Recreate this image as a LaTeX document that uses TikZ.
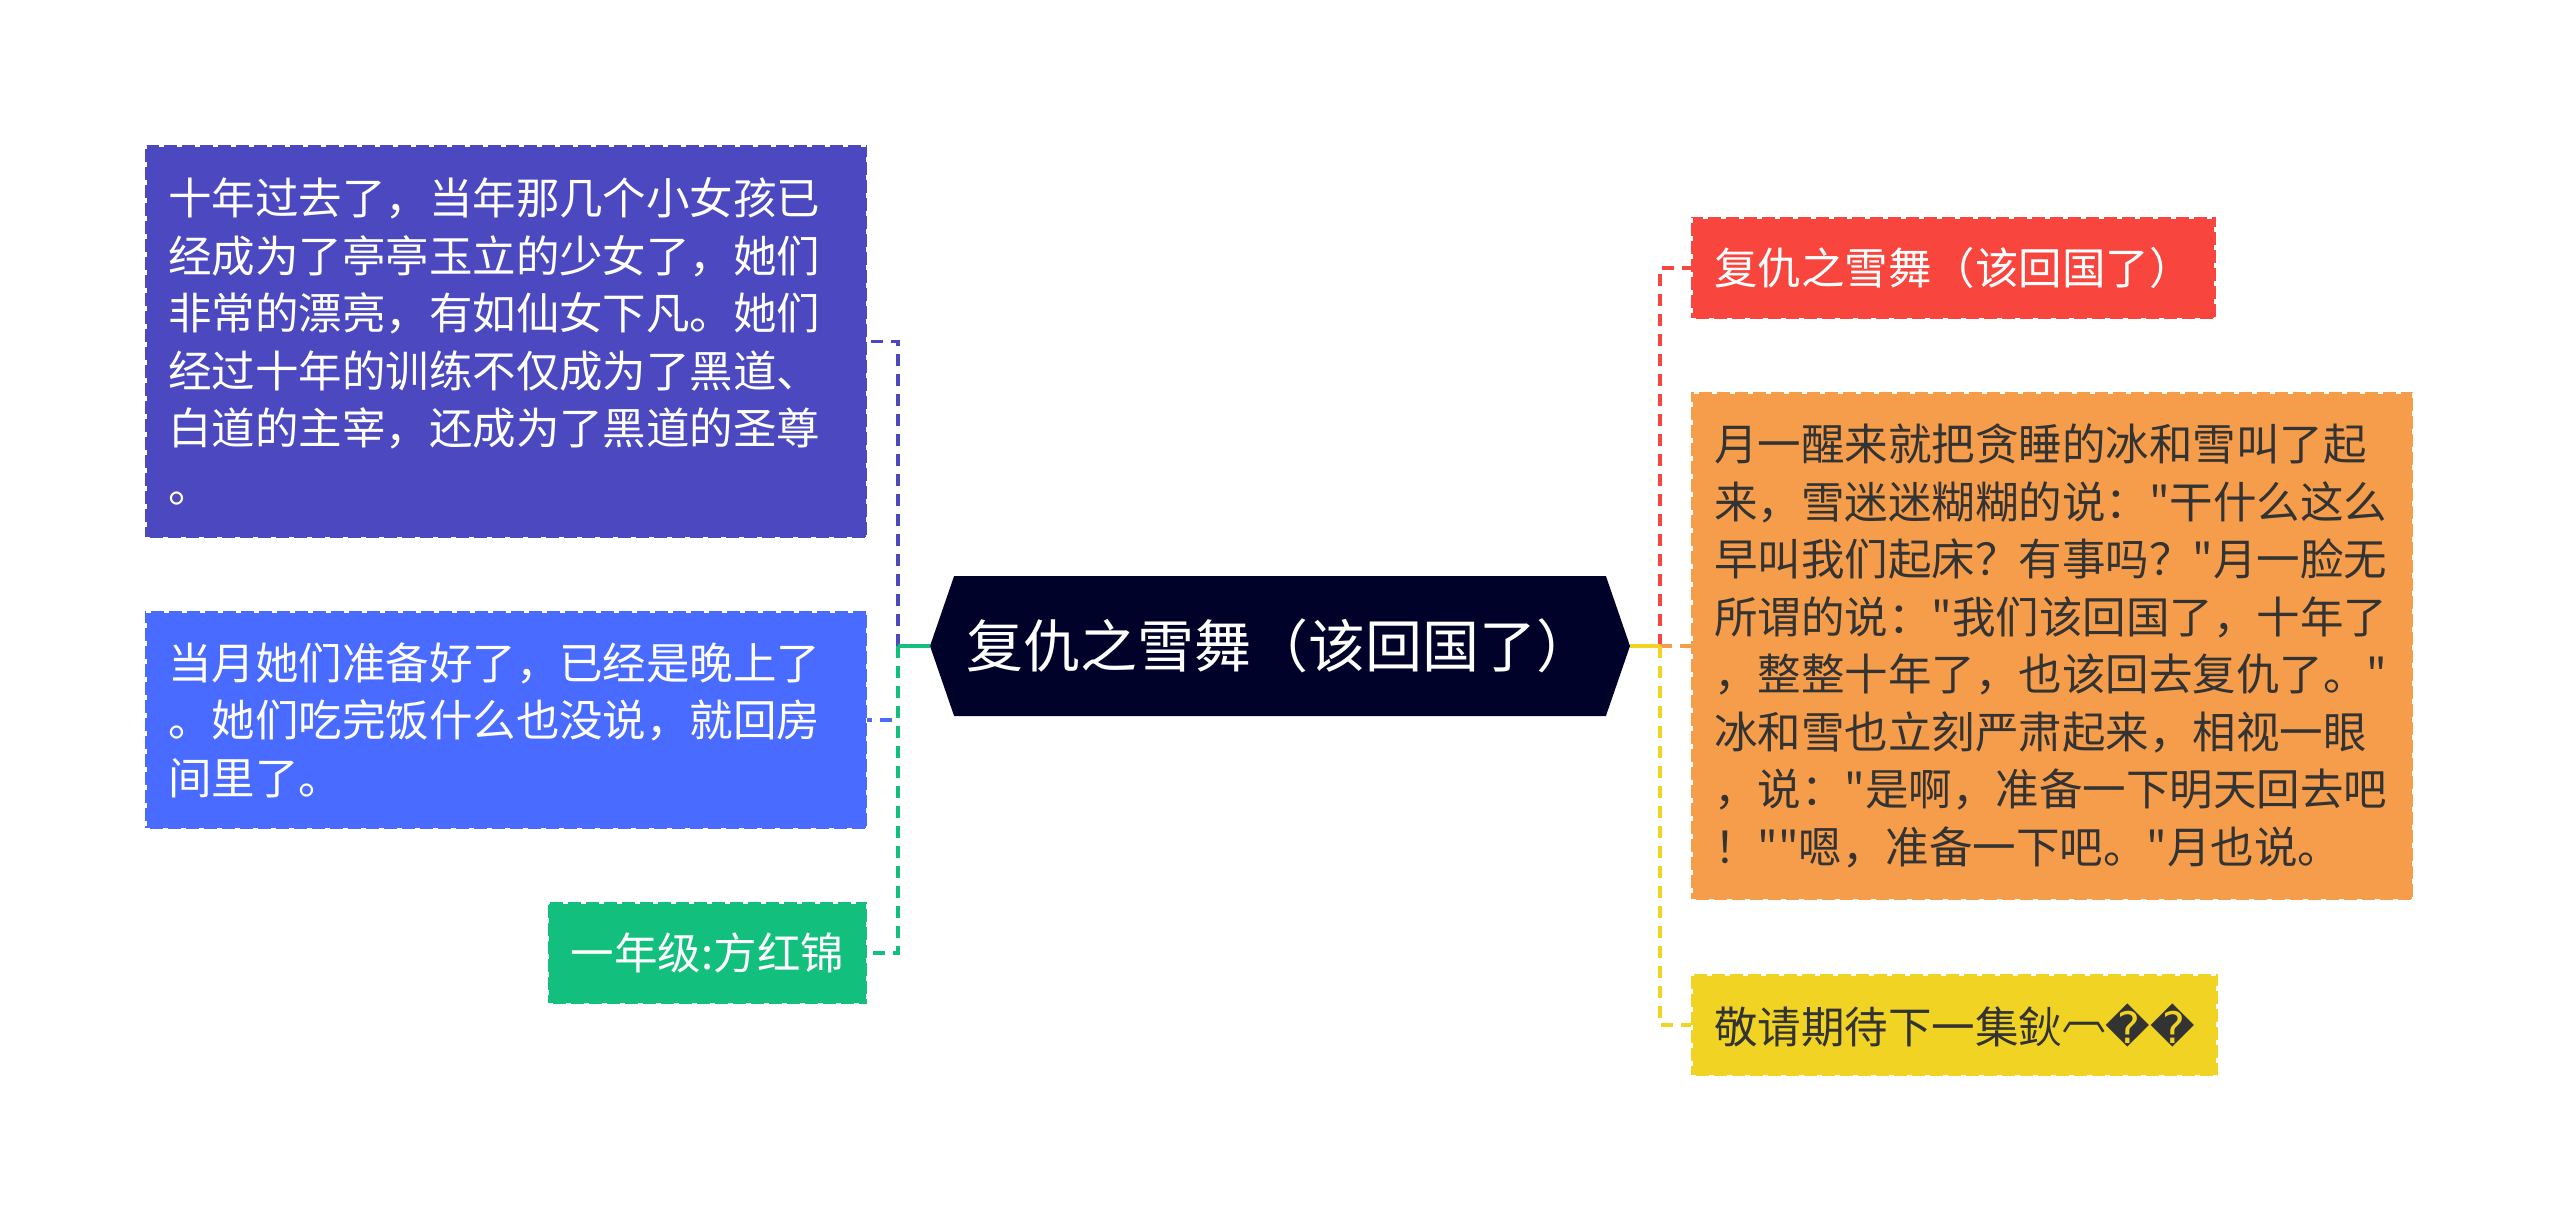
\documentclass[tikz,border=0pt]{standalone}
\usepackage{fontspec}
\newfontfamily\cjkfont{Noto Sans CJK SC}
\newfontfamily\symfont{DejaVu Sans}
\usetikzlibrary{shapes.symbols,calc}
\definecolor{hubnavy}{HTML}{01022A}
\definecolor{mmpurple}{HTML}{4B48C0}
\definecolor{mmblue}{HTML}{4A6BFF}
\definecolor{mmgreen}{HTML}{13BF7D}
\definecolor{mmred}{HTML}{F8453D}
\definecolor{mmorange}{HTML}{F69D4B}
\definecolor{mmyellow}{HTML}{F0D323}
\definecolor{darktext}{HTML}{333333}
\newcommand{\badglyph}{{\symfont ^^^^fffd}}

\begin{document}
\begin{tikzpicture}[
  x=0.5pt, y=-0.5pt,
  font=\cjkfont\fontsize{21.75pt}{28.75pt}\selectfont,
  leaf/.style={rectangle, fill=#1, draw=white, line width=1.5pt,
    dash pattern=on 2.5pt off 6.5pt, text=white, align=left,
    inner xsep=11.5pt, inner ysep=0pt, outer sep=0pt, minimum height=51pt},
  wide/.style={leaf=#1, text width=338pt},
  hub/.style={signal, signal to=west and east, signal pointer angle=142,
    fill=hubnavy, text=white, font=\cjkfont\fontsize{28.5pt}{34pt}\selectfont,
    minimum width=350pt, minimum height=70pt, inner sep=0pt, outer sep=0pt},
  link/.style={draw=#1, line width=1.75pt, dash pattern=on 6pt off 4pt},
  stub/.style={draw=#1, line width=1.75pt},
]
\path[use as bounding box, fill=white] (0,0) rectangle (2560,1222);

% ---- nodes ----
\node[hub] (hub) at (1280,646) {复仇之雪舞（该回国了）};

\node[wide=mmpurple, minimum height=196.5pt] (decade) at (506,341.5)
  {十年过去了，当年那几个小女孩已\\经成为了亭亭玉立的少女了，她们\\非常的漂亮，有如仙女下凡。她们\\经过十年的训练不仅成为了黑道、\\白道的主宰，还成为了黑道的圣尊\\。};

\node[wide=mmblue, minimum height=109pt] (evening) at (506,720)
  {当月她们准备好了，已经是晚上了\\。她们吃完饭什么也没说，就回房\\间里了。};

\node[leaf=mmgreen, anchor=east] (author) at (867,953) {一年级:方红锦};

\node[leaf=mmred, anchor=west] (title) at (1691,268) {复仇之雪舞（该回国了）};

\node[wide=mmorange, text=darktext, minimum height=254pt, anchor=west] (morning) at (1691,646)
  {月一醒来就把贪睡的冰和雪叫了起\\来，雪迷迷糊糊的说："干什么这么\\早叫我们起床？有事吗？"月一脸无\\所谓的说："我们该回国了，十年了\\，整整十年了，也该回去复仇了。"\\冰和雪也立刻严肃起来，相视一眼\\，说："是啊，准备一下明天回去吧\\！""嗯，准备一下吧。"月也说。};

\node[leaf=mmyellow, text=darktext, anchor=west] (teaser) at (1691,1025)
  {敬请期待下一集鈥\raisebox{0.3em}{︹}\badglyph\badglyph};

% ---- junctions ----
\coordinate (lj) at ($(hub.west)+(-32,0)$);
\coordinate (rj) at ($(hub.east)+(30,0)$);

% ---- left branch ----
\draw[link=mmpurple] (lj) |- (decade.east);
\draw[link=mmblue] (lj) |- (evening.east);
\draw[link=mmgreen] (lj) |- (author.east);
\draw[stub=mmgreen] (hub.west) -- (lj);

% ---- right branch ----
\draw[link=mmred] (rj) |- (title.west);
\draw[link=mmorange] (rj) |- (morning.west);
\draw[link=mmyellow] (rj) |- (teaser.west);
\draw[stub=mmyellow] (hub.east) -- (rj);

\end{tikzpicture}
\end{document}
